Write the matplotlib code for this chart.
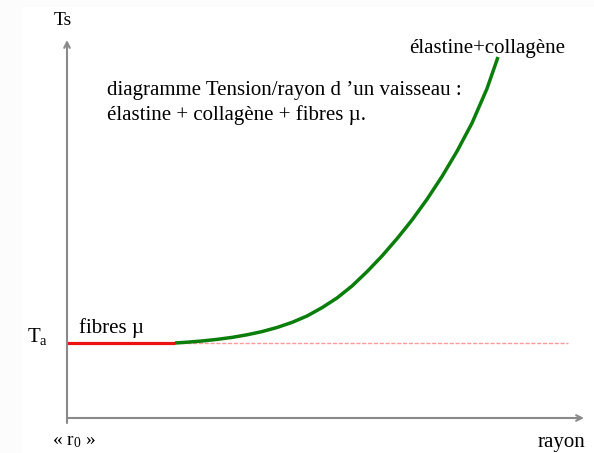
import matplotlib.pyplot as plt
from matplotlib.patches import Rectangle

plt.rcParams['font.family'] = ['Liberation Serif', 'DejaVu Serif']
plt.rcParams['mathtext.fontset'] = 'custom'
plt.rcParams['mathtext.rm'] = 'Liberation Serif'
plt.rcParams['mathtext.it'] = 'Liberation Serif'

# tension de repos (fibres musculaires) et rayon où le collagène prend le relais
Ta = 75
r_fibres = [0, 108]
T_fibres = [Ta, Ta]

# courbe élastine + collagène (unités arbitraires)
r_elast = [108, 120, 135, 150, 165, 180, 195, 210, 225, 240, 255, 270, 285,
           300, 315, 330, 345, 360, 375, 390, 405, 420, 431]
T_elast = [75, 75.8, 77, 78.6, 80.6, 83.2, 86.4, 90.5, 95.6, 102, 110.3, 120,
           132, 146.3, 162, 179.3, 198, 218.7, 241.5, 266.7, 294.9, 329.4, 361]

# prolongement de Ta en pointillé
r_ref = [108, 501]
T_ref = [Ta, Ta]

fig = plt.figure(figsize=(5.94, 4.53), dpi=100)
fig.set_facecolor('#fcfcfc')
ax = fig.add_axes([0, 0, 1, 1])
ax.set_xlim(-67, 527)
ax.set_ylim(-35, 418)
ax.axis('off')
ax.add_patch(Rectangle((-45, -35), 572, 446, color='white', zorder=0))

# axes avec flèches
axis_col = '#8a8a8a'
ax.annotate('', xy=(517, 0), xytext=(0, 0),
            arrowprops=dict(arrowstyle='->', color=axis_col, lw=1.5,
                            shrinkA=0, shrinkB=0))
ax.annotate('', xy=(0, 378), xytext=(0, -5),
            arrowprops=dict(arrowstyle='->', color=axis_col, lw=1.5,
                            shrinkA=0, shrinkB=0))

ax.plot(r_ref, T_ref, color='#ff9a9a', lw=1.0, ls=(0, (3, 1.2)))
ax.plot(r_fibres, T_fibres, color='#ee1111', lw=2.3, solid_capstyle='butt')
ax.plot(r_elast, T_elast, color='#0a7d0a', lw=2.5, solid_capstyle='butt')

fs = 15
ax.text(-4, 393, 'Ts', fontsize=14, ha='center', va='baseline')
ax.text(-40, 76, r'T$_\mathrm{a}$', fontsize=15, ha='left', va='baseline')
ax.text(12, 85, 'fibres µ', fontsize=fs, ha='left', va='baseline')
ax.text(-15, -27, r'« r$_\mathrm{0}$ »', fontsize=14, ha='left', va='baseline')
ax.text(518, -29, 'rayon', fontsize=fs, ha='right', va='baseline')
ax.text(342, 365, 'élastine+collagène', fontsize=fs, ha='left', va='baseline')
ax.text(40, 323, 'diagramme Tension/rayon d ’un vaisseau :',
        fontsize=fs, ha='left', va='baseline')
ax.text(40, 298, 'élastine + collagène + fibres µ.',
        fontsize=fs, ha='left', va='baseline')

fig.savefig('out.png', dpi=100, facecolor=fig.get_facecolor())
